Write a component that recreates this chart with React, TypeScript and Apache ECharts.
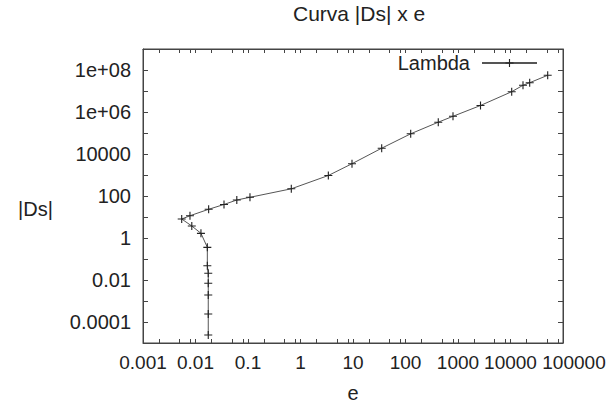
import React, { useEffect, useRef } from "react";
import * as echarts from "echarts";

// Data (e, |Ds|), in drawing order
const eValues = [
  0.0175, 0.0175, 0.0175, 0.0175, 0.0175, 0.0168, 0.0168, 0.0127, 0.0085, 0.00546,
  0.00785, 0.0178, 0.0349, 0.0612, 0.109, 0.668, 3.39, 9.57, 35.2, 125.6, 421, 803,
  2683, 10540, 17300, 23200, 51100,
];
const dsValues = [
  2.4e-5, 2.4e-4, 1.93e-3, 6.97e-3, 0.0209, 0.048, 0.36, 1.67, 3.73, 8.03,
  11.5, 23.3, 39.4, 64.5, 86.7, 220, 946, 3450, 18900, 91600, 326700, 624000,
  2.04e6, 9.27e6, 1.87e7, 2.48e7, 5.6e7,
];

const xTickLabels = ["0.001", "0.01", "0.1", "1", "10", "100", "1000", "10000", "100000"];
const xTickExponents = [-3, -2, -1, 0, 1, 2, 3, 4, 5];
const xMinorMultipliers = [2, 5, 8];
const yTickLabels = ["0.0001", "0.01", "1", "100", "10000", "1e+06", "1e+08"];
const yTickExponents = [-4, -2, 0, 2, 4, 6, 8];

const titleText = "Curva |Ds| x e";
const seriesName = "Lambda";
const xName = "e";
const yName = "|Ds|";

const FONT = "Liberation Sans, Arial, sans-serif";
const TEXT = "#222";
const AXIS = "#444";

export default function App() {
  const ref = useRef<HTMLDivElement>(null);
  useEffect(() => {
    if (!ref.current) return;
    const chart = echarts.init(ref.current, undefined, { renderer: "svg" });

    const data = eValues.map((e, i) => [Math.log10(e), Math.log10(dsValues[i])]);

    const xTicks: number[] = [];
    for (let i = 0; i < xTickExponents.length; i++) {
      const ex = xTickExponents[i];
      xTicks.push(ex);
      if (i < xTickExponents.length - 1) {
        xMinorMultipliers.forEach((m) => xTicks.push(ex + Math.log10(m)));
      }
    }

    const xLabel = (v: number) => {
      const idx = xTickExponents.indexOf(Math.round(v));
      if (idx < 0 || Math.abs(v - Math.round(v)) > 1e-6) return "";
      const t = xTickLabels[idx];
      if (idx === xTickLabels.length - 1) return "{s|" + t + "}";
      return t;
    };
    const yLabel = (v: number) => {
      const r = Math.round(v);
      const idx = yTickExponents.indexOf(r);
      return idx < 0 ? "" : yTickLabels[idx];
    };

    const xCommon = {
      type: "value" as const,
      min: -3,
      max: 5,
      interval: 1,
      splitLine: { show: false },
      axisLine: { show: true, onZero: false, lineStyle: { color: AXIS, width: 1 } },
      axisTick: {
        show: true,
        inside: true,
        length: 4,
        customValues: xTicks,
        lineStyle: { color: AXIS },
      },
    };
    const yCommon = {
      type: "value" as const,
      min: -5,
      max: 9,
      interval: 1,
      splitLine: { show: false },
      axisLine: { show: true, onZero: false, lineStyle: { color: AXIS, width: 1 } },
      axisTick: { show: true, inside: true, length: 5, lineStyle: { color: AXIS } },
    };

    const plus = "path://M4.3,0h1.4v4.3h4.3v1.4h-4.3v4.3h-1.4v-4.3h-4.3v-1.4h4.3z";

    chart.setOption({
      animation: false,
      backgroundColor: "#fff",
      textStyle: { fontFamily: FONT },
      title: {
        text: titleText,
        left: 288,
        top: -2,
        textStyle: { fontFamily: FONT, fontSize: 21, fontWeight: "normal", color: TEXT },
      },
      legend: {
        right: 67,
        top: 48,
        align: "right",
        itemWidth: 55,
        itemHeight: 10,
        data: [{ name: seriesName }],
        textStyle: { fontFamily: FONT, fontSize: 20, color: TEXT, padding: [0, 7, 0, 0] },
      },
      grid: {
        left: 143,
        right: 47,
        top: 49,
        bottom: 66,
        containLabel: false,
        show: true,
        borderColor: AXIS,
        borderWidth: 1,
        backgroundColor: "transparent",
      },
      graphic: [
        {
          type: "text",
          left: 18,
          top: 199,
          style: { text: yName, fontFamily: FONT, fontSize: 20, fill: TEXT },
        },
      ],
      xAxis: [
        {
          ...xCommon,
          position: "bottom",
          name: xName,
          nameLocation: "middle",
          nameGap: 40,
          nameTextStyle: { fontFamily: FONT, fontSize: 20, color: TEXT },
          axisLabel: {
            show: true,
            margin: 10,
            fontFamily: FONT,
            fontSize: 19,
            color: TEXT,
            formatter: xLabel,
            rich: { s: { fontFamily: FONT, fontSize: 19, color: TEXT, padding: [0, 0, 0, 22] } },
          },
        },
        { ...xCommon, position: "top", axisLabel: { show: false } },
      ],
      yAxis: [
        {
          ...yCommon,
          position: "left",
          axisLabel: {
            show: true,
            margin: 12,
            fontFamily: FONT,
            fontSize: 20,
            color: TEXT,
            formatter: yLabel,
          },
        },
        { ...yCommon, position: "right", axisLabel: { show: false } },
      ],
      series: [
        {
          name: seriesName,
          type: "line",
          data,
          symbol: plus,
          symbolSize: 8,
          showSymbol: true,
          lineStyle: { color: "#555", width: 1 },
          itemStyle: { color: "#222" },
          xAxisIndex: 0,
          yAxisIndex: 0,
        },
      ],
    });
    return () => chart.dispose();
  }, []);
  return (
    <div
      ref={ref}
      style={{ position: "fixed", left: 0, top: 0, width: 610, height: 409 }}
    />
  );
}
